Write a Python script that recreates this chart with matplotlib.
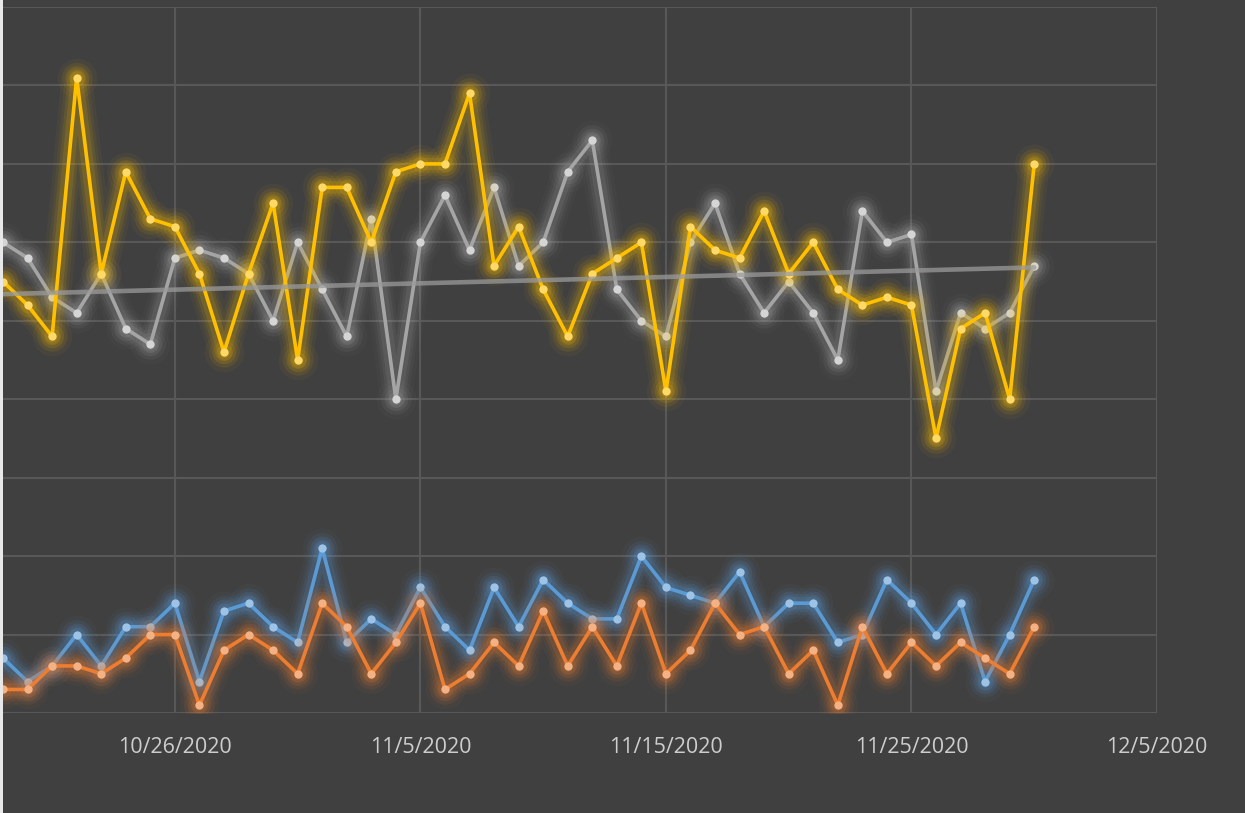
import numpy as np
import pandas as pd
import matplotlib
matplotlib.use("Agg")
import matplotlib.pyplot as plt
from matplotlib.patches import Rectangle

# Daily values, 10/19/2020 .. 11/30/2020
start_date = "2020-10-19"
end_date = "2020-11-30"

blue_vals = [7, 4, 6, 10, 6, 11, 11, 14, 4, 13, 14, 11, 9, 21, 9, 12, 10,
             16, 11, 8, 16, 11, 17, 14, 12, 12, 20, 16, 15, 14, 18, 11, 14, 14,
             9, 10, 17, 14, 10, 14, 4, 10, 17]
orange_vals = [3, 3, 6, 6, 5, 7, 10, 10, 1, 8, 10, 8, 5, 14, 11, 5, 9,
               14, 3, 5, 9, 6, 13, 6, 11, 6, 14, 5, 8, 14, 10, 11, 5, 8,
               1, 11, 5, 9, 6, 9, 7, 5, 11]
gray_vals = [60, 58, 53, 51, 56, 49, 47, 58, 59, 58, 56, 50, 60, 54, 48, 63, 40,
             60, 66, 59, 67, 57, 60, 69, 73, 54, 50, 48, 60, 65, 56, 51, 55, 51,
             45, 64, 60, 61, 41, 51, 49, 51, 57]
yellow_vals = [55, 52, 48, 81, 56, 69, 63, 62, 56, 46, 56, 65, 45, 67, 67, 60, 69,
               70, 70, 79, 57, 62, 54, 48, 56, 58, 60, 41, 62, 59, 58, 64, 56, 60,
               54, 52, 53, 52, 35, 49, 51, 40, 70]

# straight trend line, value at the first and last day
trend_vals = [53.4, 56.8]

tick_dates = ["2020-10-26", "2020-11-05", "2020-11-15", "2020-11-25", "2020-12-05"]
x_min, x_max = "2020-10-19", "2020-12-05"
y_min, y_max, y_step = 0, 90, 10

BG = "#404040"
GRID = "#585858"
TEXT = "#CDCDCD"

dates = pd.date_range(start_date, end_date, freq="D")
x = matplotlib.dates.date2num(dates.to_pydatetime())

fig = plt.figure(figsize=(12.45, 8.13), dpi=100, facecolor=BG)
ax = fig.add_axes([3 / 1245, 100 / 813, 1154 / 1245, 706 / 813])
ax.set_facecolor(BG)

def glow_series(vals, line_c, marker_c, z):
    vals = np.asarray(vals, dtype=float)
    # soft halo: stacked wide translucent strokes
    for lw, a in [(22, 0.04), (17, 0.06), (13, 0.09), (9, 0.13)]:
        ax.plot(x, vals, color=line_c, lw=lw, alpha=a, solid_joinstyle="round",
                solid_capstyle="round", zorder=z)
        ax.scatter(x, vals, s=(lw * 1.3) ** 2, color=line_c, alpha=a,
                   linewidths=0, zorder=z)
    ax.plot(x, vals, color=line_c, lw=2.6, solid_joinstyle="round",
            marker="o", ms=6.0, mfc=marker_c, mec=marker_c, mew=0, zorder=z + 0.5)

glow_series(blue_vals, "#5B9BD5", "#9DC3E6", 2)
glow_series(orange_vals, "#ED7D31", "#F4B183", 3)
glow_series(gray_vals, "#A5A5A5", "#D5D5D5", 4)
glow_series(yellow_vals, "#FFC000", "#FFD966", 5)

ax.plot([x[0], x[-1]], trend_vals, color="#9A9A9A", lw=3.3, alpha=0.75,
        solid_capstyle="round", zorder=6)

ax.set_xlim(matplotlib.dates.date2num(pd.Timestamp(x_min)),
            matplotlib.dates.date2num(pd.Timestamp(x_max)))
ax.set_ylim(y_min, y_max)

tick_ts = [pd.Timestamp(d) for d in tick_dates]
ax.set_xticks(matplotlib.dates.date2num([t.to_pydatetime() for t in tick_ts]))
ax.set_xticklabels([f"{t.month}/{t.day}/{t.year}" for t in tick_ts],
                   fontfamily="Open Sans", fontsize=15.5, color=TEXT)
ax.set_yticks(np.arange(y_min, y_max + 1, y_step))
ax.tick_params(axis="x", length=0, pad=17.5)
ax.tick_params(axis="y", length=0, labelleft=False)

ax.grid(True, color=GRID, lw=1.5, zorder=0)
ax.set_axisbelow(True)
for s in ax.spines.values():
    s.set_visible(False)

# thin light strip along the left edge
fig.add_artist(Rectangle((0, 0), 3 / 1245, 1, transform=fig.transFigure,
                         facecolor="#E8E8E8", edgecolor="none"))

fig.savefig("out.png", dpi=100, facecolor=BG)
